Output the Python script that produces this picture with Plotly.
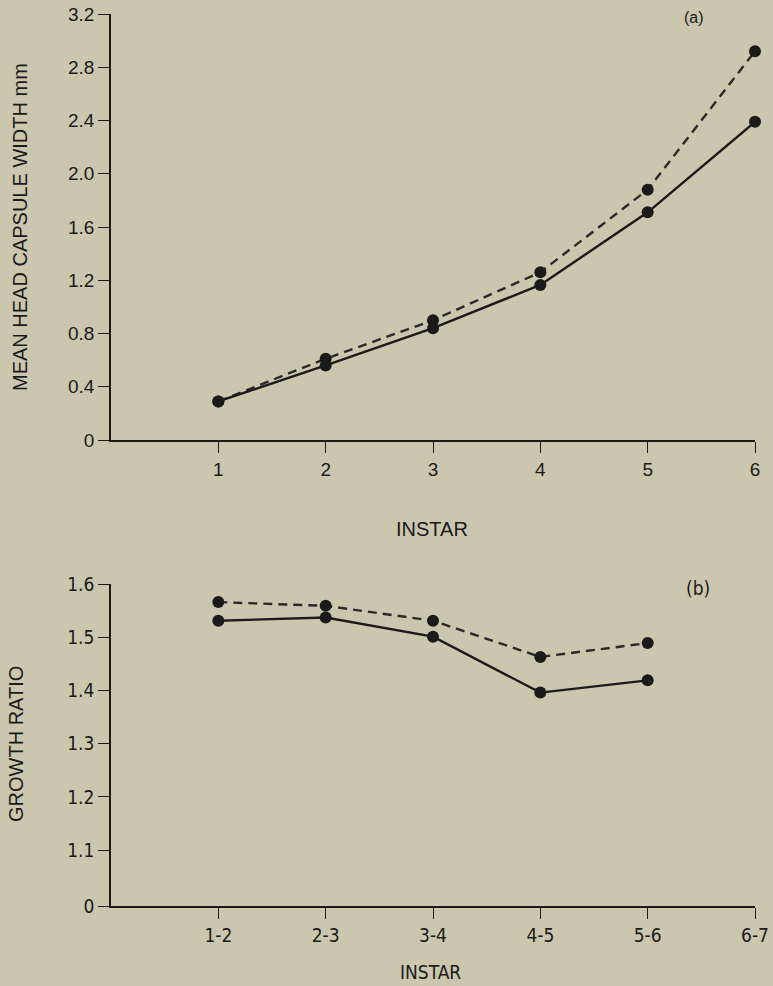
import plotly.graph_objects as go

# ---- data ----
instar = [1, 2, 3, 4, 5, 6]
width_solid = [0.29, 0.56, 0.84, 1.165, 1.71, 2.39]
width_dashed = [0.29, 0.61, 0.90, 1.26, 1.88, 2.92]

pair_pos = [1, 2, 3, 4, 5]
pair_labels = ["1-2", "2-3", "3-4", "4-5", "5-6", "6-7"]
pair_ticks = [1, 2, 3, 4, 5, 6]
ratio_solid = [1.531, 1.537, 1.501, 1.396, 1.419]
ratio_dashed = [1.566, 1.559, 1.531, 1.463, 1.489]

top_yticks = [0, 0.4, 0.8, 1.2, 1.6, 2.0, 2.4, 2.8, 3.2]
top_yticklabels = ["0", "0.4", "0.8", "1.2", "1.6", "2.0", "2.4", "2.8", "3.2"]
bot_yticks = [0.995, 1.1, 1.2, 1.3, 1.4, 1.5, 1.6]
bot_yticklabels = ["0", "1.1", "1.2", "1.3", "1.4", "1.5", "1.6"]

BG = "#cbc7af"
INK = "#1a1a1a"
W, H = 773, 986
ML, MR = 111, 18
PW = W - ML - MR


def px_x(p):
    return (p - ML) / PW


def px_y(p):
    return 1 - p / H


fig = go.Figure()

line_solid = dict(color=INK, width=2.4)
line_dash = dict(color="#2a2a2a", width=2.4, dash="9px,6px")
mk = dict(color=INK, size=12)

fig.add_trace(go.Scatter(x=instar, y=width_dashed, mode="lines+markers",
                         line=line_dash, marker=mk, xaxis="x", yaxis="y",
                         showlegend=False, cliponaxis=False))
fig.add_trace(go.Scatter(x=instar, y=width_solid, mode="lines+markers",
                         line=line_solid, marker=mk, xaxis="x", yaxis="y",
                         showlegend=False, cliponaxis=False))
fig.add_trace(go.Scatter(x=pair_pos, y=ratio_dashed, mode="lines+markers",
                         line=line_dash, marker=mk, xaxis="x2", yaxis="y2",
                         showlegend=False, cliponaxis=False))
fig.add_trace(go.Scatter(x=pair_pos, y=ratio_solid, mode="lines+markers",
                         line=line_solid, marker=mk, xaxis="x2", yaxis="y2",
                         showlegend=False, cliponaxis=False))

SANS = "Liberation Sans, Arial, sans-serif"
NARROW = "Liberation Sans Narrow, DejaVu Sans Condensed, Liberation Sans, Arial, sans-serif"
tick_font = dict(family=SANS, size=19, color=INK)
narrow_font = dict(family=NARROW, size=19, color=INK)
title_font = dict(family=SANS, size=20, color=INK)

common_axis = dict(showgrid=False, zeroline=False, showline=True, linecolor=INK,
                   linewidth=1.6, ticks="outside", ticklen=11, tickwidth=1.4,
                   tickcolor=INK, automargin=False)

fig.update_layout(
    width=W, height=H,
    margin=dict(l=ML, r=MR, t=0, b=0),
    paper_bgcolor=BG, plot_bgcolor=BG,
    xaxis=dict(**common_axis, domain=[0, 1], range=[0, 6], anchor="y",
               tickvals=instar, ticktext=[str(v) for v in instar],
               tickfont=tick_font),
    yaxis=dict(**common_axis, domain=[px_y(440), px_y(14)], range=[0, 3.2],
               anchor="x", tickvals=top_yticks, ticktext=top_yticklabels,
               tickfont=tick_font),
    xaxis2=dict(**common_axis, domain=[0, 1], range=[0, 6], anchor="y2",
                tickvals=pair_ticks, ticktext=pair_labels, tickfont=narrow_font),
    yaxis2=dict(**common_axis, domain=[px_y(906), px_y(584)], range=[0.995, 1.6],
                anchor="x2", tickvals=bot_yticks, ticktext=bot_yticklabels,
                tickfont=narrow_font),
    annotations=[
        dict(text="MEAN HEAD CAPSULE WIDTH mm", textangle=-90, xref="paper",
             yref="paper", x=px_x(20), y=px_y(227), showarrow=False,
             xanchor="center", yanchor="middle", font=title_font),
        dict(text="INSTAR", xref="paper", yref="paper", x=px_x(432), y=px_y(529),
             showarrow=False, xanchor="center", yanchor="middle", font=title_font),
        dict(text="(a)", xref="paper", yref="paper", x=px_x(694), y=px_y(17),
             showarrow=False, xanchor="center", yanchor="middle",
             font=dict(family=SANS, size=16, color=INK)),
        dict(text="GROWTH RATIO", textangle=-90, xref="paper", yref="paper",
             x=px_x(16), y=px_y(744), showarrow=False, xanchor="center",
             yanchor="middle", font=title_font),
        dict(text="INSTAR", xref="paper", yref="paper", x=px_x(430), y=px_y(972),
             showarrow=False, xanchor="center", yanchor="middle", font=narrow_font),
        dict(text="(b)", xref="paper", yref="paper", x=px_x(698), y=px_y(588),
             showarrow=False, xanchor="center", yanchor="middle", font=narrow_font),
    ],
)

fig.write_html("out.html",
               config={"displayModeBar": False},
               post_script="document.body.style.margin='0';"
                           "document.body.style.overflow='hidden';")
